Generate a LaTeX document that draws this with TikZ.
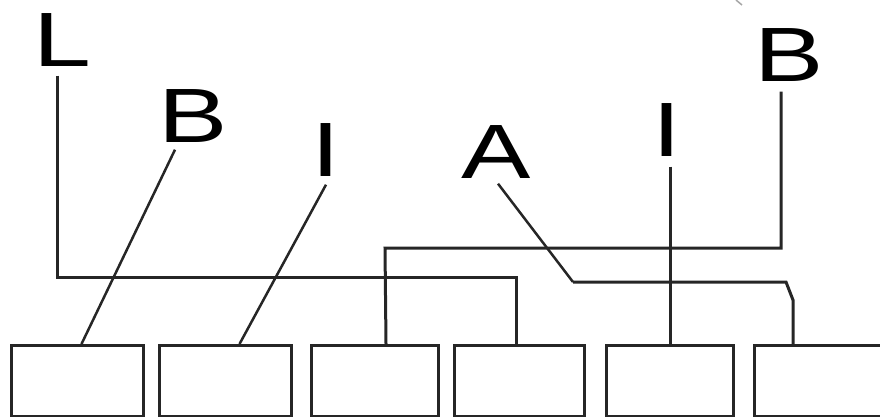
\documentclass[tikz,border=0pt]{standalone}
\usepackage{fontspec}
\usepackage{graphicx}
\setmainfont{Liberation Sans}
\begin{document}
\begin{tikzpicture}[x=1pt,y=-1pt,
  lbl/.style={inner sep=0pt, font=\fontsize{77}{77}\selectfont},
  slot/.style={draw=black!85, line width=3pt, minimum height=71pt, inner sep=0pt, anchor=north west},
  wire/.style={draw=black!85, line width=3pt},
  thin/.style={draw=black!85, line width=2.5pt}]
\useasboundingbox (0,0) rectangle (880,417);
\clip (0,0) rectangle (880,417);
% labels
\node[lbl] (L)  at (62,40)  {\scalebox{1.35}[1]{L}};
\node[lbl] (B1) at (193,116) {\scalebox{1.35}[1]{B}};
\node[lbl] (I1) at (326,150) {\scalebox{1.35}[1]{I}};
\node[lbl] (A)  at (496,152) {\scalebox{1.35}[1]{A}};
\node[lbl] (I2) at (667,130) {\scalebox{1.35}[1]{I}};
\node[lbl] (B2) at (789,55)  {\scalebox{1.35}[1]{B}};
% boxes
\node[slot, minimum width=132pt] (b1) at (10,344) {};
\node[slot, minimum width=132pt] (b2) at (158,344) {};
\node[slot, minimum width=127pt] (b3) at (310,344) {};
\node[slot, minimum width=130pt] (b4) at (453,344) {};
\node[slot, minimum width=127pt] (b5) at (605,344) {};
\node[slot, minimum width=160pt] (b6) at (753,344) {};
% bend points
\coordinate (l1) at (57,277);
\coordinate (l2) at (516,277);
\coordinate (k3) at ([xshift=11pt]b3.north);
\coordinate (r1) at (781,248);
\coordinate (r2) at (385,248);
\coordinate (a1) at (573,282);
\coordinate (a2) at (786,282);
\coordinate (a3) at (793,300);
\coordinate (a4) at ([xshift=40pt]b6.north west);
% connectors
\draw[wire] ([xshift=-5pt,yshift=-9pt]L.south) -- (l1) -- (l2) -- (l2 |- b4.north);
\draw[thin] ([xshift=-18pt,yshift=-7pt]B1.south) -- ([xshift=4pt]b1.north);
\draw[thin] ([yshift=-8pt]I1.south) -- ([xshift=14pt]b2.north);
\draw[thin] ([xshift=2pt,yshift=-5pt]A.south) -- (a1);
\draw[wire] (a1) -- (a2) -- (a3) -- (a4);
\draw[wire] ([yshift=-10pt]I2.south -| b5.north) -- (b5.north);
\draw[wire] ([xshift=-8pt,yshift=-10pt]B2.south) -- (r1) -- (r2) -- (k3);
% small artifact at top
\draw[black!35, line width=1.5pt] (736,0) -- (742,5);
\end{tikzpicture}
\end{document}
